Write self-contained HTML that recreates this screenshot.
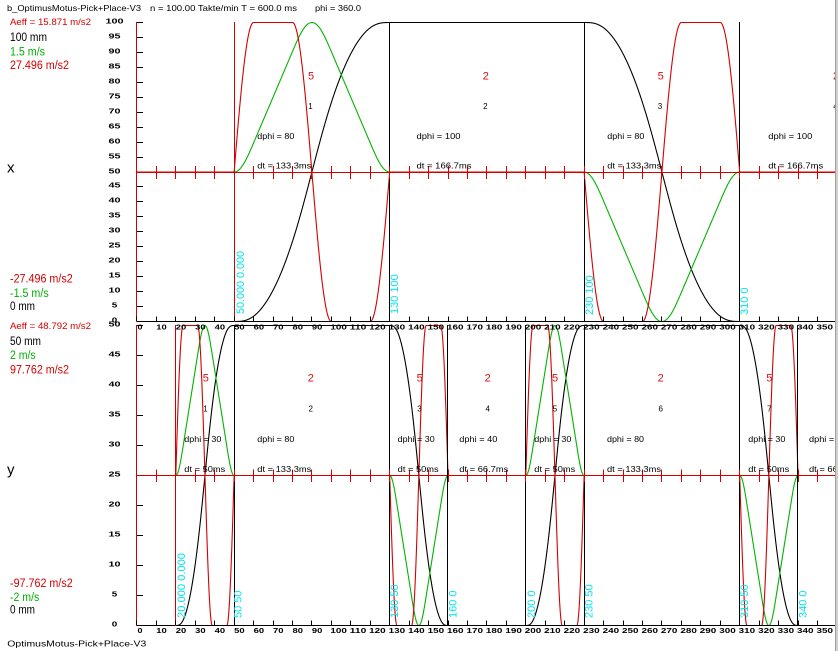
<!DOCTYPE html>
<html><head><meta charset="utf-8">
<style>
html,body{margin:0;padding:0;background:#fff;}
body{width:838px;height:651px;overflow:hidden;position:relative;}
svg{position:absolute;left:0;top:0;}
text{font-family:"Liberation Sans",Arial,sans-serif;}
.tk{font-size:7px;font-weight:bold;fill:#000;}
.tl{font-size:7px;font-weight:bold;fill:#000;text-anchor:middle;}
.sm{font-size:8px;fill:#000;}
.rn{font-size:11px;fill:#d81010;text-anchor:middle;}
.bn{font-size:8px;fill:#000;text-anchor:middle;}
.cy{font-size:11px;fill:#00e4ee;}
.lr{fill:#d40000;}
.lg{fill:#00b000;}
</style></head><body>
<svg width="838" height="651" viewBox="0 0 838 651">
<defs><clipPath id="c"><rect x="0" y="0" width="835" height="651"/></clipPath></defs>
<g clip-path="url(#c)">
<g id="curves"></g>

<g shape-rendering="crispEdges" fill="none" stroke-width="1">
<path stroke="#d40000" d="M136.5 22V322"/>
<path stroke="#000" d="M137 22.5H143M137 37.5H143M137 52.5H143M137 67.5H143M137 82.5H143M137 97.5H143M137 112.5H143M137 127.5H143M137 142.5H143M137 157.5H143M137 186.5H143M137 201.5H143M137 216.5H143M137 231.5H143M137 246.5H143M137 261.5H143M137 276.5H143M137 291.5H143M137 306.5H143"/>
<path stroke="#000" d="M137 321.5H836"/>
<path stroke="#d40000" d="M137 172.5H836"/>
<path stroke="#d40000" d="M234.5 22V322"/>
<path stroke="#000" d="M389.5 22V322M584.5 22V322M739.5 22V322"/>
<path stroke="#d40000" d="M136.5 325V626"/>
<path stroke="#000" d="M137 325.5H143M137 355.5H143M137 385.5H143M137 415.5H143M137 445.5H143M137 505.5H143M137 535.5H143M137 565.5H143M137 595.5H143"/>
<path stroke="#000" d="M137 625.5H836"/>
<path stroke="#d40000" d="M137 475.5H836"/>
<path stroke="#d40000" d="M175.5 325V626"/>
<path stroke="#000" d="M234.5 325V626M389.5 325V626M447.5 325V626M525.5 325V626M584.5 325V626M739.5 325V626M797.5 325V626"/>
<g id="ticks"></g>
</g>

<g class="tl">
<text x="114.5" y="23.5" textLength="18" lengthAdjust="spacingAndGlyphs">100</text>
<text x="114.5" y="38.5" textLength="12" lengthAdjust="spacingAndGlyphs">95</text>
<text x="114.5" y="53.5" textLength="12" lengthAdjust="spacingAndGlyphs">90</text>
<text x="114.5" y="68.5" textLength="12" lengthAdjust="spacingAndGlyphs">85</text>
<text x="114.5" y="83.5" textLength="12" lengthAdjust="spacingAndGlyphs">80</text>
<text x="114.5" y="98.5" textLength="12" lengthAdjust="spacingAndGlyphs">75</text>
<text x="114.5" y="113.5" textLength="12" lengthAdjust="spacingAndGlyphs">70</text>
<text x="114.5" y="128.5" textLength="12" lengthAdjust="spacingAndGlyphs">65</text>
<text x="114.5" y="143.5" textLength="12" lengthAdjust="spacingAndGlyphs">60</text>
<text x="114.5" y="158.5" textLength="12" lengthAdjust="spacingAndGlyphs">55</text>
<text x="114.5" y="173.5" textLength="12" lengthAdjust="spacingAndGlyphs">50</text>
<text x="114.5" y="187.5" textLength="12" lengthAdjust="spacingAndGlyphs">45</text>
<text x="114.5" y="202.5" textLength="12" lengthAdjust="spacingAndGlyphs">40</text>
<text x="114.5" y="217.5" textLength="12" lengthAdjust="spacingAndGlyphs">35</text>
<text x="114.5" y="232.5" textLength="12" lengthAdjust="spacingAndGlyphs">30</text>
<text x="114.5" y="247.5" textLength="12" lengthAdjust="spacingAndGlyphs">25</text>
<text x="114.5" y="262.5" textLength="12" lengthAdjust="spacingAndGlyphs">20</text>
<text x="114.5" y="277.5" textLength="12" lengthAdjust="spacingAndGlyphs">15</text>
<text x="114.5" y="292.5" textLength="12" lengthAdjust="spacingAndGlyphs">10</text>
<text x="114.5" y="307.5" textLength="5.5" lengthAdjust="spacingAndGlyphs">5</text>
<text x="114.5" y="322.5" textLength="5.5" lengthAdjust="spacingAndGlyphs">0</text>
<text x="114.5" y="326.5" textLength="12" lengthAdjust="spacingAndGlyphs">50</text>
<text x="114.5" y="356.5" textLength="12" lengthAdjust="spacingAndGlyphs">45</text>
<text x="114.5" y="386.5" textLength="12" lengthAdjust="spacingAndGlyphs">40</text>
<text x="114.5" y="416.5" textLength="12" lengthAdjust="spacingAndGlyphs">35</text>
<text x="114.5" y="446.5" textLength="12" lengthAdjust="spacingAndGlyphs">30</text>
<text x="114.5" y="476.5" textLength="12" lengthAdjust="spacingAndGlyphs">25</text>
<text x="114.5" y="506.5" textLength="12" lengthAdjust="spacingAndGlyphs">20</text>
<text x="114.5" y="536.5" textLength="12" lengthAdjust="spacingAndGlyphs">15</text>
<text x="114.5" y="566.5" textLength="12" lengthAdjust="spacingAndGlyphs">10</text>
<text x="114.5" y="596.5" textLength="5.5" lengthAdjust="spacingAndGlyphs">5</text>
<text x="114.5" y="626.5" textLength="5.5" lengthAdjust="spacingAndGlyphs">0</text>
</g>

<g class="tk">
<text x="137.5" y="329.5" textLength="5" lengthAdjust="spacingAndGlyphs">0</text>
<text x="156.3" y="329.5" textLength="10.5" lengthAdjust="spacingAndGlyphs">10</text>
<text x="175.8" y="329.5" textLength="10.5" lengthAdjust="spacingAndGlyphs">20</text>
<text x="195.2" y="329.5" textLength="10.5" lengthAdjust="spacingAndGlyphs">30</text>
<text x="214.7" y="329.5" textLength="10.5" lengthAdjust="spacingAndGlyphs">40</text>
<text x="234.1" y="329.5" textLength="10.5" lengthAdjust="spacingAndGlyphs">50</text>
<text x="253.6" y="329.5" textLength="10.5" lengthAdjust="spacingAndGlyphs">60</text>
<text x="273.0" y="329.5" textLength="10.5" lengthAdjust="spacingAndGlyphs">70</text>
<text x="292.5" y="329.5" textLength="10.5" lengthAdjust="spacingAndGlyphs">80</text>
<text x="311.9" y="329.5" textLength="10.5" lengthAdjust="spacingAndGlyphs">90</text>
<text x="330.4" y="329.5" textLength="16.5" lengthAdjust="spacingAndGlyphs">100</text>
<text x="349.8" y="329.5" textLength="16.5" lengthAdjust="spacingAndGlyphs">110</text>
<text x="369.2" y="329.5" textLength="16.5" lengthAdjust="spacingAndGlyphs">120</text>
<text x="388.7" y="329.5" textLength="16.5" lengthAdjust="spacingAndGlyphs">130</text>
<text x="408.1" y="329.5" textLength="16.5" lengthAdjust="spacingAndGlyphs">140</text>
<text x="427.6" y="329.5" textLength="16.5" lengthAdjust="spacingAndGlyphs">150</text>
<text x="447.0" y="329.5" textLength="16.5" lengthAdjust="spacingAndGlyphs">160</text>
<text x="466.5" y="329.5" textLength="16.5" lengthAdjust="spacingAndGlyphs">170</text>
<text x="485.9" y="329.5" textLength="16.5" lengthAdjust="spacingAndGlyphs">180</text>
<text x="505.4" y="329.5" textLength="16.5" lengthAdjust="spacingAndGlyphs">190</text>
<text x="524.8" y="329.5" textLength="16.5" lengthAdjust="spacingAndGlyphs">200</text>
<text x="544.2" y="329.5" textLength="16.5" lengthAdjust="spacingAndGlyphs">210</text>
<text x="563.7" y="329.5" textLength="16.5" lengthAdjust="spacingAndGlyphs">220</text>
<text x="583.1" y="329.5" textLength="16.5" lengthAdjust="spacingAndGlyphs">230</text>
<text x="602.6" y="329.5" textLength="16.5" lengthAdjust="spacingAndGlyphs">240</text>
<text x="622.0" y="329.5" textLength="16.5" lengthAdjust="spacingAndGlyphs">250</text>
<text x="641.5" y="329.5" textLength="16.5" lengthAdjust="spacingAndGlyphs">260</text>
<text x="660.9" y="329.5" textLength="16.5" lengthAdjust="spacingAndGlyphs">270</text>
<text x="680.4" y="329.5" textLength="16.5" lengthAdjust="spacingAndGlyphs">280</text>
<text x="699.8" y="329.5" textLength="16.5" lengthAdjust="spacingAndGlyphs">290</text>
<text x="719.3" y="329.5" textLength="16.5" lengthAdjust="spacingAndGlyphs">300</text>
<text x="738.7" y="329.5" textLength="16.5" lengthAdjust="spacingAndGlyphs">310</text>
<text x="758.1" y="329.5" textLength="16.5" lengthAdjust="spacingAndGlyphs">320</text>
<text x="777.6" y="329.5" textLength="16.5" lengthAdjust="spacingAndGlyphs">330</text>
<text x="797.0" y="329.5" textLength="16.5" lengthAdjust="spacingAndGlyphs">340</text>
<text x="816.5" y="329.5" textLength="16.5" lengthAdjust="spacingAndGlyphs">350</text>
<text x="835.9" y="329.5" textLength="16.5" lengthAdjust="spacingAndGlyphs">360</text>
</g>
<g class="tk">
<text x="137.5" y="633" textLength="5" lengthAdjust="spacingAndGlyphs">0</text>
<text x="156.3" y="633" textLength="10.5" lengthAdjust="spacingAndGlyphs">10</text>
<text x="175.8" y="633" textLength="10.5" lengthAdjust="spacingAndGlyphs">20</text>
<text x="195.2" y="633" textLength="10.5" lengthAdjust="spacingAndGlyphs">30</text>
<text x="214.7" y="633" textLength="10.5" lengthAdjust="spacingAndGlyphs">40</text>
<text x="234.1" y="633" textLength="10.5" lengthAdjust="spacingAndGlyphs">50</text>
<text x="253.6" y="633" textLength="10.5" lengthAdjust="spacingAndGlyphs">60</text>
<text x="273.0" y="633" textLength="10.5" lengthAdjust="spacingAndGlyphs">70</text>
<text x="292.5" y="633" textLength="10.5" lengthAdjust="spacingAndGlyphs">80</text>
<text x="311.9" y="633" textLength="10.5" lengthAdjust="spacingAndGlyphs">90</text>
<text x="330.4" y="633" textLength="16.5" lengthAdjust="spacingAndGlyphs">100</text>
<text x="349.8" y="633" textLength="16.5" lengthAdjust="spacingAndGlyphs">110</text>
<text x="369.2" y="633" textLength="16.5" lengthAdjust="spacingAndGlyphs">120</text>
<text x="388.7" y="633" textLength="16.5" lengthAdjust="spacingAndGlyphs">130</text>
<text x="408.1" y="633" textLength="16.5" lengthAdjust="spacingAndGlyphs">140</text>
<text x="427.6" y="633" textLength="16.5" lengthAdjust="spacingAndGlyphs">150</text>
<text x="447.0" y="633" textLength="16.5" lengthAdjust="spacingAndGlyphs">160</text>
<text x="466.5" y="633" textLength="16.5" lengthAdjust="spacingAndGlyphs">170</text>
<text x="485.9" y="633" textLength="16.5" lengthAdjust="spacingAndGlyphs">180</text>
<text x="505.4" y="633" textLength="16.5" lengthAdjust="spacingAndGlyphs">190</text>
<text x="524.8" y="633" textLength="16.5" lengthAdjust="spacingAndGlyphs">200</text>
<text x="544.2" y="633" textLength="16.5" lengthAdjust="spacingAndGlyphs">210</text>
<text x="563.7" y="633" textLength="16.5" lengthAdjust="spacingAndGlyphs">220</text>
<text x="583.1" y="633" textLength="16.5" lengthAdjust="spacingAndGlyphs">230</text>
<text x="602.6" y="633" textLength="16.5" lengthAdjust="spacingAndGlyphs">240</text>
<text x="622.0" y="633" textLength="16.5" lengthAdjust="spacingAndGlyphs">250</text>
<text x="641.5" y="633" textLength="16.5" lengthAdjust="spacingAndGlyphs">260</text>
<text x="660.9" y="633" textLength="16.5" lengthAdjust="spacingAndGlyphs">270</text>
<text x="680.4" y="633" textLength="16.5" lengthAdjust="spacingAndGlyphs">280</text>
<text x="699.8" y="633" textLength="16.5" lengthAdjust="spacingAndGlyphs">290</text>
<text x="719.3" y="633" textLength="16.5" lengthAdjust="spacingAndGlyphs">300</text>
<text x="738.7" y="633" textLength="16.5" lengthAdjust="spacingAndGlyphs">310</text>
<text x="758.1" y="633" textLength="16.5" lengthAdjust="spacingAndGlyphs">320</text>
<text x="777.6" y="633" textLength="16.5" lengthAdjust="spacingAndGlyphs">330</text>
<text x="797.0" y="633" textLength="16.5" lengthAdjust="spacingAndGlyphs">340</text>
<text x="816.5" y="633" textLength="16.5" lengthAdjust="spacingAndGlyphs">350</text>
<text x="835.9" y="633" textLength="16.5" lengthAdjust="spacingAndGlyphs">360</text>
</g>

<text class="rn" x="311" y="79.3">5</text>
<text class="bn" x="310.5" y="109">1</text>
<text class="sm" x="257.3" y="139" textLength="37" lengthAdjust="spacingAndGlyphs">dphi = 80</text>
<text class="sm" x="257.3" y="168.7" textLength="54" lengthAdjust="spacingAndGlyphs">dt = 133.3ms</text>
<text class="rn" x="485.8" y="79.3">2</text>
<text class="bn" x="485.3" y="109">2</text>
<text class="sm" x="416.5" y="139" textLength="44" lengthAdjust="spacingAndGlyphs">dphi = 100</text>
<text class="sm" x="416.5" y="168.7" textLength="55" lengthAdjust="spacingAndGlyphs">dt = 166.7ms</text>
<text class="rn" x="660.7" y="79.3">5</text>
<text class="bn" x="660" y="109">3</text>
<text class="sm" x="607.3" y="139" textLength="37" lengthAdjust="spacingAndGlyphs">dphi = 80</text>
<text class="sm" x="607.3" y="168.7" textLength="54" lengthAdjust="spacingAndGlyphs">dt = 133.3ms</text>
<text class="rn" x="836" y="79.3">2</text>
<text class="bn" x="835.5" y="109">4</text>
<text class="sm" x="768.3" y="139" textLength="44" lengthAdjust="spacingAndGlyphs">dphi = 100</text>
<text class="sm" x="768.3" y="168.7" textLength="55" lengthAdjust="spacingAndGlyphs">dt = 166.7ms</text>

<text class="rn" x="205.8" y="381.7">5</text>
<text class="bn" x="205.5" y="411.7">1</text>
<text class="sm" x="184.3" y="442" textLength="37" lengthAdjust="spacingAndGlyphs">dphi = 30</text>
<text class="sm" x="184.3" y="472" textLength="41" lengthAdjust="spacingAndGlyphs">dt = 50ms</text>
<text class="rn" x="310.8" y="381.7">2</text>
<text class="bn" x="310.7" y="411.7">2</text>
<text class="sm" x="257.3" y="442" textLength="37" lengthAdjust="spacingAndGlyphs">dphi = 80</text>
<text class="sm" x="257.3" y="472" textLength="54" lengthAdjust="spacingAndGlyphs">dt = 133.3ms</text>
<text class="rn" x="419.7" y="381.7">5</text>
<text class="bn" x="419.5" y="411.7">3</text>
<text class="sm" x="397.7" y="442" textLength="37" lengthAdjust="spacingAndGlyphs">dphi = 30</text>
<text class="sm" x="397.7" y="472" textLength="41" lengthAdjust="spacingAndGlyphs">dt = 50ms</text>
<text class="rn" x="487.7" y="381.7">2</text>
<text class="bn" x="487.7" y="411.7">4</text>
<text class="sm" x="459.3" y="442" textLength="38" lengthAdjust="spacingAndGlyphs">dphi = 40</text>
<text class="sm" x="459.3" y="472" textLength="49" lengthAdjust="spacingAndGlyphs">dt = 66.7ms</text>
<text class="rn" x="555" y="381.7">5</text>
<text class="bn" x="555" y="411.7">5</text>
<text class="sm" x="534.3" y="442" textLength="37" lengthAdjust="spacingAndGlyphs">dphi = 30</text>
<text class="sm" x="534.3" y="472" textLength="41" lengthAdjust="spacingAndGlyphs">dt = 50ms</text>
<text class="rn" x="660.7" y="381.7">2</text>
<text class="bn" x="660.7" y="411.7">6</text>
<text class="sm" x="607" y="442" textLength="37" lengthAdjust="spacingAndGlyphs">dphi = 80</text>
<text class="sm" x="607" y="472" textLength="54" lengthAdjust="spacingAndGlyphs">dt = 133.3ms</text>
<text class="rn" x="769.3" y="381.7">5</text>
<text class="bn" x="769.3" y="411.7">7</text>
<text class="sm" x="748.3" y="442" textLength="37" lengthAdjust="spacingAndGlyphs">dphi = 30</text>
<text class="sm" x="748.3" y="472" textLength="41" lengthAdjust="spacingAndGlyphs">dt = 50ms</text>
<text class="sm" x="809" y="442" textLength="38" lengthAdjust="spacingAndGlyphs">dphi = 40</text>
<text class="sm" x="809" y="472" textLength="49" lengthAdjust="spacingAndGlyphs">dt = 66.7ms</text>

<text class="cy" transform="translate(244,314) rotate(-90)" textLength="63" lengthAdjust="spacingAndGlyphs">50.000 0.000</text>
<text class="cy" transform="translate(398,314) rotate(-90)">130 100</text>
<text class="cy" transform="translate(593,315) rotate(-90)">230 100</text>
<text class="cy" transform="translate(748,315) rotate(-90)">310 0</text>
<text class="cy" transform="translate(185,618) rotate(-90)" textLength="65" lengthAdjust="spacingAndGlyphs">20.000 0.000</text>
<text class="cy" transform="translate(241.7,618) rotate(-90)">50 50</text>
<text class="cy" transform="translate(398,618) rotate(-90)">130 50</text>
<text class="cy" transform="translate(456.7,618) rotate(-90)">160 0</text>
<text class="cy" transform="translate(535,618) rotate(-90)">200 0</text>
<text class="cy" transform="translate(592.7,618) rotate(-90)">230 50</text>
<text class="cy" transform="translate(748,618) rotate(-90)">310 50</text>
<text class="cy" transform="translate(806.7,618) rotate(-90)">340 0</text>
</g>

<text x="7" y="11" font-size="8.5" textLength="134" lengthAdjust="spacingAndGlyphs">b_OptimusMotus-Pick+Place-V3</text>
<text x="150" y="11" font-size="8.5" textLength="147" lengthAdjust="spacingAndGlyphs">n = 100.00 Takte/min T = 600.0 ms</text>
<text x="315" y="11" font-size="8.5" textLength="46" lengthAdjust="spacingAndGlyphs">phi = 360.0</text>

<text class="lr" x="10" y="25" font-size="9.3" textLength="81" lengthAdjust="spacingAndGlyphs">Aeff = 15.871 m/s2</text>
<text x="10" y="41" font-size="11.5" textLength="37" lengthAdjust="spacingAndGlyphs">100 mm</text>
<text class="lg" x="10" y="55.3" font-size="11.5" textLength="35" lengthAdjust="spacingAndGlyphs">1.5 m/s</text>
<text class="lr" x="10" y="69" font-size="11.5" textLength="59" lengthAdjust="spacingAndGlyphs">27.496 m/s2</text>
<text x="7" y="172.7" font-size="15">x</text>
<text class="lr" x="10" y="282.7" font-size="11.5" textLength="62.7" lengthAdjust="spacingAndGlyphs">-27.496 m/s2</text>
<text class="lg" x="10" y="297" font-size="11.5" textLength="38.7" lengthAdjust="spacingAndGlyphs">-1.5 m/s</text>
<text x="10" y="310" font-size="11.5" textLength="25" lengthAdjust="spacingAndGlyphs">0 mm</text>

<text class="lr" x="10" y="329" font-size="9.3" textLength="81" lengthAdjust="spacingAndGlyphs">Aeff = 48.792 m/s2</text>
<text x="10" y="345" font-size="11.5" textLength="31" lengthAdjust="spacingAndGlyphs">50 mm</text>
<text class="lg" x="10" y="359" font-size="11.5" textLength="25.7" lengthAdjust="spacingAndGlyphs">2 m/s</text>
<text class="lr" x="10" y="373.3" font-size="11.5" textLength="59" lengthAdjust="spacingAndGlyphs">97.762 m/s2</text>
<text x="7" y="474.5" font-size="15">y</text>
<text class="lr" x="10" y="587" font-size="11.5" textLength="62.7" lengthAdjust="spacingAndGlyphs">-97.762 m/s2</text>
<text class="lg" x="10" y="601" font-size="11.5" textLength="29.3" lengthAdjust="spacingAndGlyphs">-2 m/s</text>
<text x="10" y="613.3" font-size="11.5" textLength="25" lengthAdjust="spacingAndGlyphs">0 mm</text>

<text x="7.3" y="646.5" font-size="8.5" textLength="139" lengthAdjust="spacingAndGlyphs">OptimusMotus-Pick+Place-V3</text>

<rect x="835" y="0" width="1" height="651" fill="#a0a0a0"/>
<rect x="836" y="0" width="2" height="651" fill="#d4d0c8"/>
</svg>
<script>
(function(){
var NS="http://www.w3.org/2000/svg";
var N=4000,A=new Float64Array(N+1),V=new Float64Array(N+1),P=new Float64Array(N+1);
function acc(u){var k=4*Math.PI;if(u<0.125)return Math.sin(k*u);if(u<0.375)return 1;if(u<0.625)return Math.cos(k*(u-0.375));if(u<0.875)return -1;return -Math.cos(k*(u-0.875));}
var v=0,p=0,i;A[0]=0;V[0]=0;P[0]=0;
for(i=1;i<=N;i++){var a0=acc((i-1)/N),a1=acc(i/N);var vn=v+(a0+a1)/(2*N);p+=(v+vn)/(2*N);v=vn;A[i]=a1;V[i]=v;P[i]=p;}
var vmax=0;for(i=0;i<=N;i++)if(V[i]>vmax)vmax=V[i];
var pend=P[N];A[N]=0;
function law(u){var j=Math.max(0,Math.min(N,Math.round(u*N)));return [P[j]/pend,V[j]/vmax,A[j]];}
function st(segs,t){var lvl=0;for(var j=0;j<segs.length;j++){var s=segs[j];if(t<s[0])return [lvl,0,0];if(t<=s[1]){var r=law((t-s[0])/(s[1]-s[0]));return s[2]>0?r:[1-r[0],-r[1],-r[2]];}lvl=s[2]>0?1:0;}return [lvl,0,0];}
function px(t){return 136.9+1.9445*t;}
function mk(segs,y0,hp,yc,hv){
 var dp='',dv='',da='',k=0;
 for(var t=0;t<=361.001;t+=0.125){var s=st(segs,t);var x=px(t).toFixed(2);var c=k?'L':'M';k++;
  dp+=c+x+' '+(y0-hp*s[0]).toFixed(2);dv+=c+x+' '+(yc-hv*s[1]).toFixed(2);da+=c+x+' '+(yc-hv*s[2]).toFixed(2);}
 return [dp,dv,da];}
var g=document.getElementById('curves');
function add(d,col){var e=document.createElementNS(NS,'path');e.setAttribute('d',d);e.setAttribute('fill','none');e.setAttribute('stroke',col);e.setAttribute('stroke-width','1.1');g.appendChild(e);}
var X=mk([[50,130,1],[230,310,-1]],321.5,299,172,149.5);
var Y=mk([[20,50,1],[130,160,-1],[200,230,1],[310,340,-1]],625.5,300,475.5,150);
[X,Y].forEach(function(r){add(r[0],'#000');add(r[1],'#00b400');add(r[2],'#d40000');});
var tg=document.getElementById('ticks');
var dr='',db='';
for(var kk=0;kk<=36;kk++){var x=Math.floor(px(kk*10))+0.5;
 dr+='M'+x+' 166V179M'+x+' 469.5V482';
 db+='M'+x+' 316.5V321M'+x+' 620.5V625';}
var e1=document.createElementNS(NS,'path');e1.setAttribute('d',dr);e1.setAttribute('stroke','#d40000');e1.setAttribute('fill','none');tg.appendChild(e1);
var e2=document.createElementNS(NS,'path');e2.setAttribute('d',db);e2.setAttribute('stroke','#000');e2.setAttribute('fill','none');tg.appendChild(e2);
})();
</script>
</body></html>
